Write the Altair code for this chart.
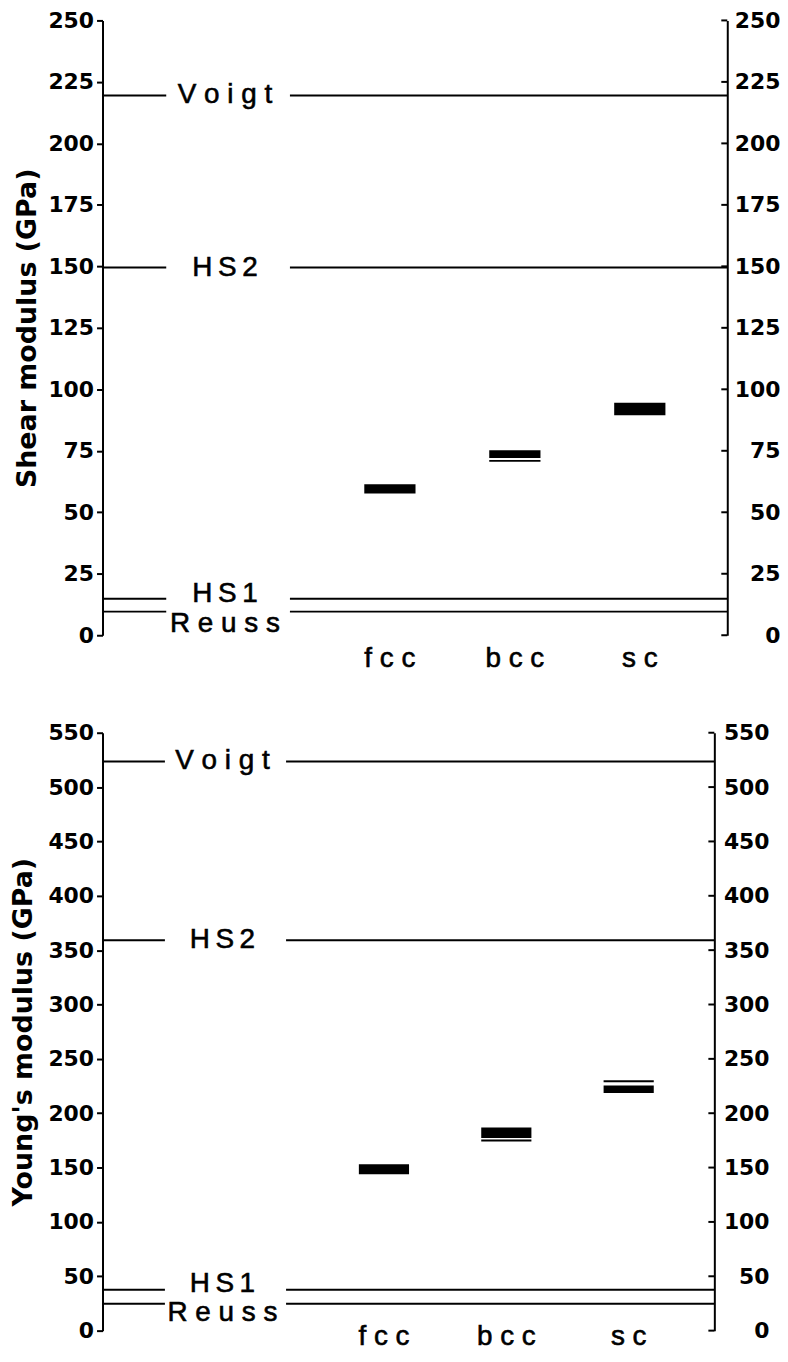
import altair as alt
import pandas as pd

# ---------------- data ----------------
cat_labels = ["f c c", "b c c", "s c"]
cat_pos = [1, 2, 3]

bound_labels = ["V o i g t", "H\u2009S\u20092", "H\u2009S\u20091", "R e u s s"]
shear_bounds = [219.5, 149.5, 14.8, 9.6]
young_bounds = [523.5, 359.0, 37.7, 24.7]

shear_lo = [57.6, 72.1, 89.5]
shear_hi = [61.4, 75.2, 94.5]
shear_thin = [None, 70.9, None]

young_lo = [143.8, 177.2, 218.5]
young_hi = [153.1, 186.9, 225.4]
young_thin = [None, 175.0, 229.4]

shear_ticks = [0, 25, 50, 75, 100, 125, 150, 175, 200, 225, 250]
young_ticks = [0, 50, 100, 150, 200, 250, 300, 350, 400, 450, 500, 550]

# ---------------- style ----------------
XMIN, XMAX = -1.3, 3.7
GAP = (-0.79, 0.2)
LABEL_X = -0.32
HALF = 0.205
TICK_FONT = "DejaVu Sans"
TEXT_FONT = "Liberation Sans"


def panel(title, bounds, lo, hi, thin, ticks, ymax, W, H, label_dy, cat_dy,
          title_pad, rpad):
    xs = alt.Scale(domain=[XMIN, XMAX], nice=False, zero=False)
    ys = alt.Scale(domain=[0, ymax], nice=False, zero=False)
    n = len(bounds)

    segs = pd.DataFrame({
        "v": list(bounds) * 2,
        "x1": [XMIN] * n + [GAP[1]] * n,
        "x2": [GAP[0]] * n + [XMAX] * n,
    })
    lines = alt.Chart(segs).mark_rule(color="black", strokeWidth=2).encode(
        x=alt.X("x1:Q", scale=xs, axis=None),
        x2="x2:Q",
        y=alt.Y("v:Q", scale=ys, axis=alt.Axis(
            values=ticks, title=title, orient="left", grid=False,
            domainColor="black", domainWidth=2,
            tickColor="black", tickWidth=2, tickSize=6,
            labelFont=TICK_FONT, labelFontWeight="bold", labelFontSize=22,
            labelColor="black", labelPadding=3,
            titleFont=TICK_FONT, titleFontWeight="bold", titleFontSize=27,
            titleColor="black", titlePadding=title_pad)),
    )

    bars_df = pd.DataFrame({
        "x": [p - HALF for p in cat_pos],
        "x2": [p + HALF for p in cat_pos],
        "lo": lo, "hi": hi,
    })
    bars = alt.Chart(bars_df).mark_rect(color="black").encode(
        x=alt.X("x:Q", scale=xs, axis=None),
        x2="x2:Q",
        y=alt.Y("lo:Q", scale=ys, axis=alt.Axis(
            values=ticks, title=None, orient="right", grid=False,
            domainColor="black", domainWidth=2, ticks=False, tickSize=0,
            labelFont=TICK_FONT, labelFontWeight="bold", labelFontSize=22,
            labelColor="black", labelAlign="right", labelPadding=rpad)),
        y2="hi:Q",
    )

    thin_rows = [(p, t) for p, t in zip(cat_pos, thin) if t is not None]
    thin_df = pd.DataFrame({
        "x": [p - HALF for p, _ in thin_rows],
        "x2": [p + HALF for p, _ in thin_rows],
        "v": [t for _, t in thin_rows],
    })
    thin_lines = alt.Chart(thin_df).mark_rule(color="black", strokeWidth=2).encode(
        x=alt.X("x:Q", scale=xs, axis=None),
        x2="x2:Q",
        y=alt.Y("v:Q", scale=ys, axis=None),
    )

    tdf = pd.DataFrame({"t": ticks})
    rticks = alt.Chart(tdf).mark_rule(color="black", strokeWidth=2).encode(
        x=alt.value(W - 6), x2=alt.value(W),
        y=alt.Y("t:Q", scale=ys, axis=None),
    )

    texts = []
    for lab, v, dy in zip(bound_labels, bounds, label_dy):
        df = pd.DataFrame({"x": [LABEL_X], "v": [v], "t": [lab]})
        texts.append(alt.Chart(df).mark_text(
            font=TEXT_FONT, fontSize=28, dy=dy, baseline="middle",
            align="center", color="black", stroke="black", strokeWidth=0.6).encode(
            x=alt.X("x:Q", scale=xs, axis=None),
            y=alt.Y("v:Q", scale=ys, axis=None),
            text="t:N"))

    cdf = pd.DataFrame({"x": cat_pos, "t": cat_labels})
    cats = alt.Chart(cdf).mark_text(
        font=TEXT_FONT, fontSize=28, baseline="alphabetic", align="center",
        color="black", stroke="black", strokeWidth=0.6).encode(
        x=alt.X("x:Q", scale=xs, axis=None),
        y=alt.value(H + cat_dy),
        text="t:N")

    return alt.layer(lines, bars, thin_lines, rticks, *texts, cats).resolve_axis(
        y="independent").properties(width=W, height=H)


top = panel("Shear modulus (GPa)", shear_bounds, shear_lo, shear_hi, shear_thin,
            shear_ticks, 250, 628, 618, [0, 0, -5, 12], 32, 6, 53)
bottom = panel("Young's modulus (GPa)", young_bounds, young_lo, young_hi, young_thin,
               young_ticks, 550, 615, 601, [0, 0, -6, 9], 14, 10, 55)

chart = alt.vconcat(top, bottom, spacing=49).configure_view(stroke=None).properties(
    padding={"left": 2, "top": -2, "right": 0, "bottom": 0}, background="white")

chart.save("out.html", embed_options={"renderer": "svg", "actions": False})
